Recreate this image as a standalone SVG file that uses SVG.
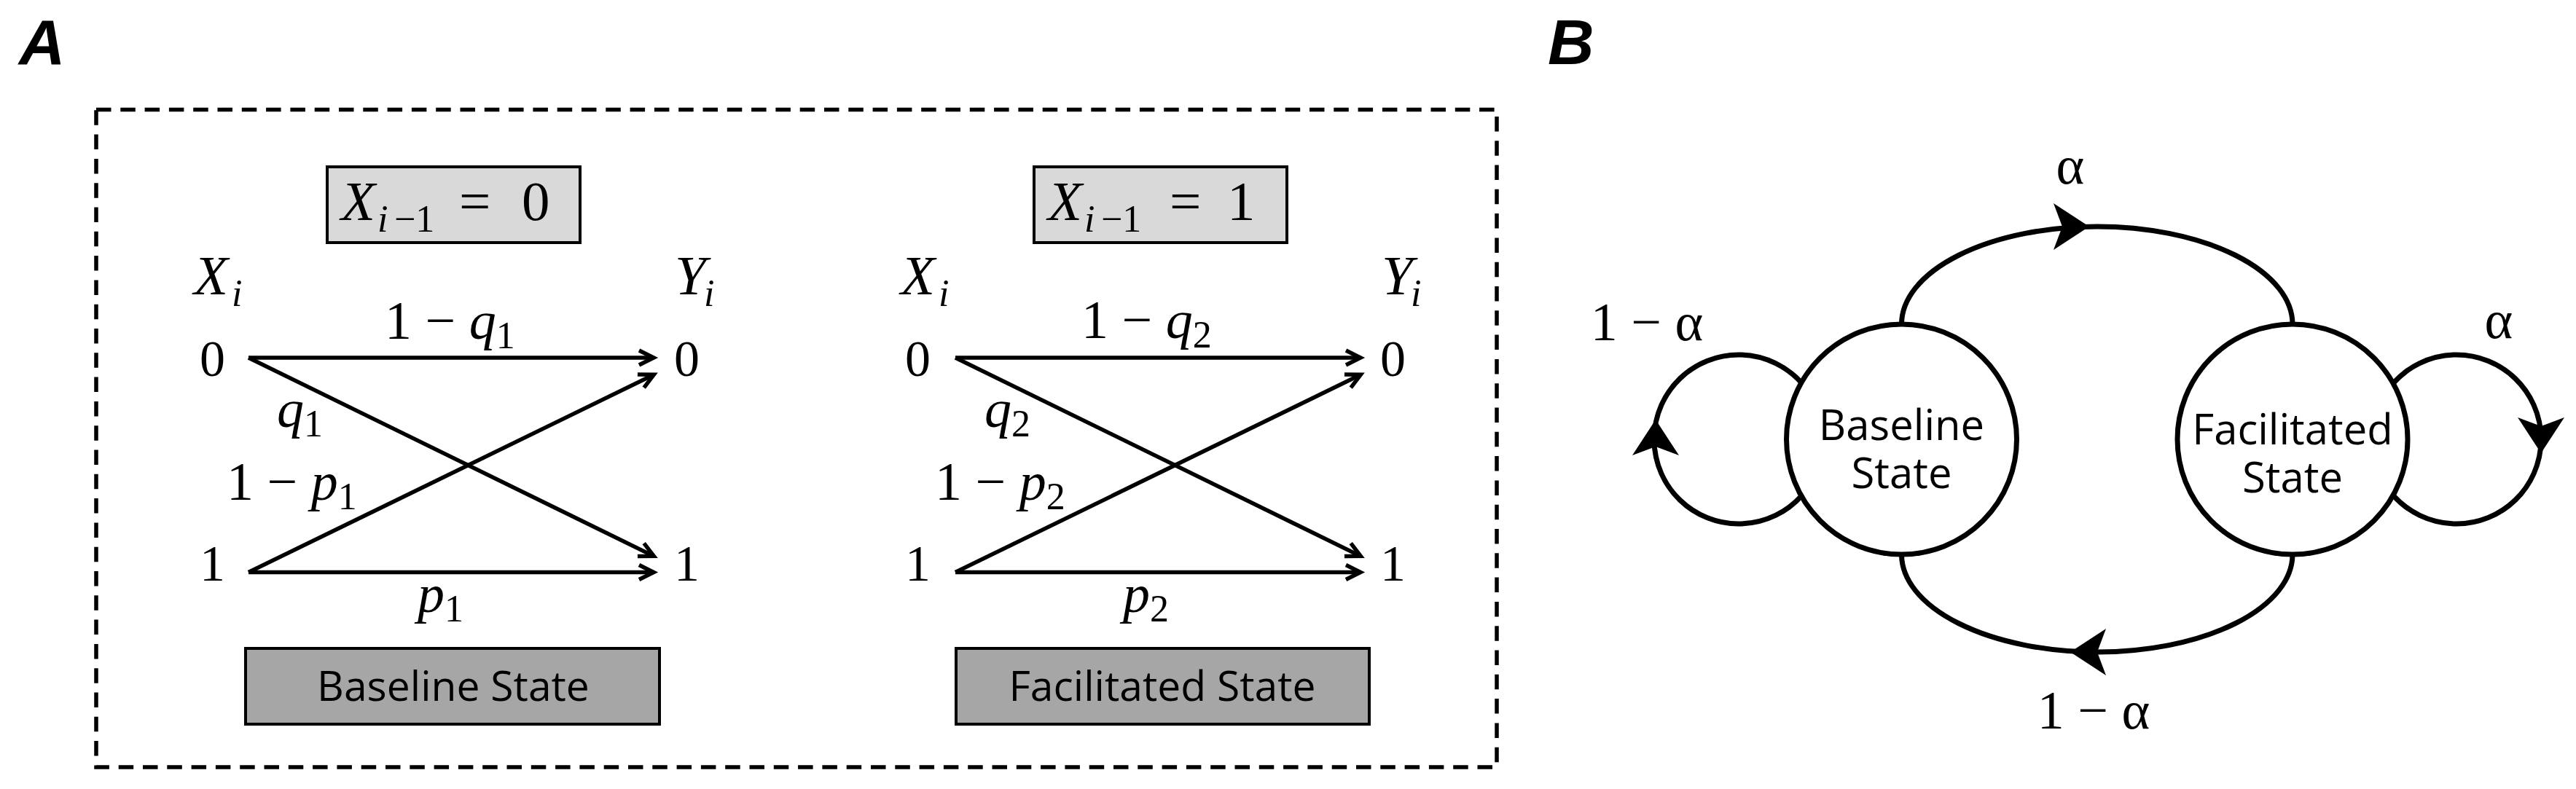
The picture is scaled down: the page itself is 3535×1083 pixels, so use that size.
<svg xmlns="http://www.w3.org/2000/svg" width="3535" height="1083" viewBox="0 0 3535 1083">
<style>
.m{font-family:"Liberation Serif","DejaVu Serif",serif;font-size:74px;fill:#000}
.x{font-size:77px}
.it{font-style:italic}
.d{font-size:70px}
.s{font-size:52px}
.sans{font-family:"Open Sans","Liberation Sans",sans-serif;fill:#000}
.lab{font-family:"Liberation Sans",Arial,sans-serif;font-weight:bold;font-style:italic;font-size:88px;fill:#000}
.ln{stroke:#000;stroke-width:5.5;fill:none;marker-end:url(#open)}
.frame{fill:none;stroke:#000;stroke-width:5.5;stroke-dasharray:20.5 12.8}
.tbox{fill:#d9d9d9;stroke:#000;stroke-width:4}
.sbox{fill:#a6a6a6;stroke:#000;stroke-width:4}
.st{stroke:#000;stroke-width:7;fill:none}
.node{fill:#fff;stroke:#000;stroke-width:7}
</style>
<defs>
<marker id="open" markerUnits="userSpaceOnUse" markerWidth="40" markerHeight="40" viewBox="-30 -20 40 40" refX="0" refY="0" orient="auto" overflow="visible">
<path d="M-20,-10 L0,0 L-20,10" fill="none" stroke="#000" stroke-width="5.5"/>
</marker>
<path id="stealth" d="M0,0 L-49,-32 L-37,0 L-49,32 Z" fill="#000"/>
</defs>

<text class="lab" x="26" y="88">A</text>
<text class="lab" x="2124" y="88">B</text>

<rect id="frameA" class="frame" x="132" y="150.5" width="1922" height="902.5"/>

<!-- Panel A left: baseline state -->
<g id="titleL">
<rect class="tbox" x="449" y="229" width="347" height="104"/>
<text class="m x" y="302"><tspan class="it" x="468">X</tspan><tspan class="it s" x="518" y="318">i</tspan><tspan class="s" x="541" y="318">−1</tspan><tspan x="630" y="302">=</tspan><tspan x="716">0</tspan></text>
</g>
<g id="XiL"><text class="m x" y="404"><tspan class="it" x="266">X</tspan><tspan class="it s" x="318" y="420">i</tspan></text></g>
<g id="YiL"><text class="m x" y="404"><tspan class="it" x="926">Y</tspan><tspan class="it s" x="966" y="420">i</tspan></text></g>
<g id="nL-x0"><text class="m d" x="291.5" y="516" text-anchor="middle">0</text></g>
<g id="nL-x1"><text class="m d" x="291.5" y="797" text-anchor="middle">1</text></g>
<g id="nL-y0"><text class="m d" x="942.5" y="516" text-anchor="middle">0</text></g>
<g id="nL-y1"><text class="m d" x="942.5" y="797" text-anchor="middle">1</text></g>
<g id="stateL">
<rect class="sbox" x="337" y="890" width="568" height="104"/>
<text class="sans" x="622" y="962" font-size="57" text-anchor="middle">Baseline State</text>
</g>

<!-- Panel A right: facilitated state -->
<g id="titleR">
<rect class="tbox" x="1419" y="229" width="347" height="104"/>
<text class="m x" y="302"><tspan class="it" x="1438">X</tspan><tspan class="it s" x="1488" y="318">i</tspan><tspan class="s" x="1511" y="318">−1</tspan><tspan x="1605" y="302">=</tspan><tspan x="1684">1</tspan></text>
</g>
<g id="XiR"><text class="m x" y="404"><tspan class="it" x="1236">X</tspan><tspan class="it s" x="1288" y="420">i</tspan></text></g>
<g id="YiR"><text class="m x" y="404"><tspan class="it" x="1896">Y</tspan><tspan class="it s" x="1936" y="420">i</tspan></text></g>
<g id="nR-x0"><text class="m d" x="1259.5" y="516" text-anchor="middle">0</text></g>
<g id="nR-x1"><text class="m d" x="1259.5" y="797" text-anchor="middle">1</text></g>
<g id="nR-y0"><text class="m d" x="1911.5" y="516" text-anchor="middle">0</text></g>
<g id="nR-y1"><text class="m d" x="1911.5" y="797" text-anchor="middle">1</text></g>
<g id="stateR">
<rect class="sbox" x="1312" y="890" width="567" height="104"/>
<text class="sans" x="1595" y="962" font-size="57" text-anchor="middle">Facilitated State</text>
</g>

<!-- Panel B nodes -->
<g id="baseline">
<circle class="node" cx="2609.5" cy="603" r="158"/>
<text class="sans" font-size="58" text-anchor="middle"><tspan x="2609.5" y="604">Baseline</tspan><tspan x="2609.5" y="670">State</tspan></text>
</g>
<g id="facilitated">
<circle class="node" cx="3146" cy="603" r="158"/>
<text class="sans" font-size="58" text-anchor="middle"><tspan x="3146" y="610">Facilitated</tspan><tspan x="3146" y="676">State</tspan></text>
</g>

<g id="connectors">
<!-- panel A left -->
<path class="ln" d="M341,491 L897,491"/>
<path class="ln" d="M341,491 L897.3,763.4"/>
<path class="ln" d="M341,785.5 L897.3,514.3"/>
<path class="ln" d="M341,785.5 L897,785.5"/>
<!-- panel A right -->
<path class="ln" d="M1311,491 L1867,491"/>
<path class="ln" d="M1311,491 L1867.3,763.4"/>
<path class="ln" d="M1311,785.5 L1867.3,514.3"/>
<path class="ln" d="M1311,785.5 L1867,785.5"/>
<!-- panel B -->
<path class="st" d="M2609.5,445 A268.25 134 0 0 1 3146,445"/>
<path class="st" d="M3146,761 A268.25 134 0 0 1 2609.5,761"/>
<path class="st" d="M2472,680.8 A116 116 0 1 1 2472,525.2"/>
<path class="st" d="M3285,525.2 A116 116 0 1 1 3285,680.8"/>
<use href="#stealth" transform="translate(2867,311)"/>
<use href="#stealth" transform="translate(2841,895) rotate(180)"/>
<use href="#stealth" transform="translate(2272,576) rotate(-90)"/>
<use href="#stealth" transform="translate(3487,622) rotate(90)"/>
</g>

<g id="edge-labels">
<text class="m" x="528" y="465">1 − <tspan class="it">q</tspan><tspan class="s" dy="13">1</tspan></text>
<text class="m" x="380" y="586"><tspan class="it">q</tspan><tspan class="s" dy="13">1</tspan></text>
<text class="m" x="311" y="686">1 − <tspan class="it">p</tspan><tspan class="s" dy="13">1</tspan></text>
<text class="m" x="573" y="840"><tspan class="it">p</tspan><tspan class="s" dy="13">1</tspan></text>
<text class="m" x="1484" y="464">1 − <tspan class="it">q</tspan><tspan class="s" dy="13">2</tspan></text>
<text class="m" x="1351" y="586"><tspan class="it">q</tspan><tspan class="s" dy="13">2</tspan></text>
<text class="m" x="1283" y="686">1 − <tspan class="it">p</tspan><tspan class="s" dy="13">2</tspan></text>
<text class="m" x="1541" y="840"><tspan class="it">p</tspan><tspan class="s" dy="13">2</tspan></text>
<text class="m" x="2841" y="252" text-anchor="middle">α</text>
<text class="m" x="3429" y="464" text-anchor="middle">α</text>
<text class="m" x="2260" y="467" text-anchor="middle">1 − α</text>
<text class="m" x="2873" y="1000" text-anchor="middle">1 − α</text>
</g>
</svg>
